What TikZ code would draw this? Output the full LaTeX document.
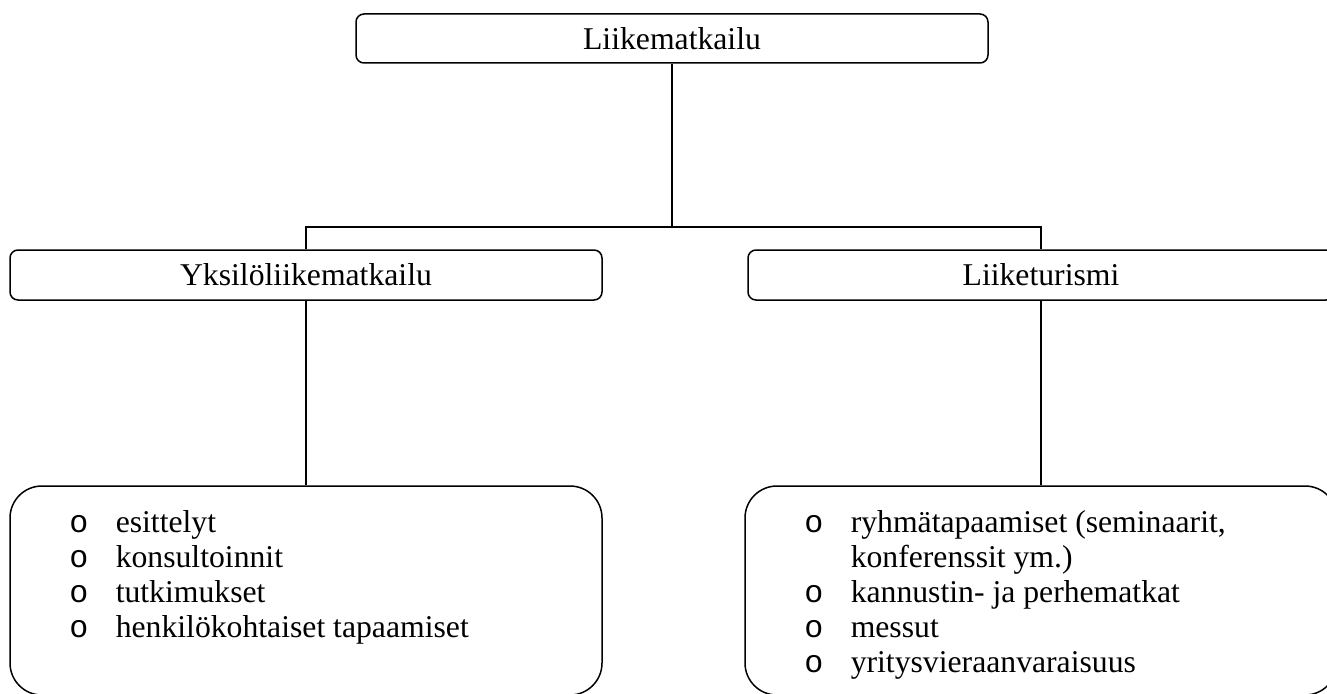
\documentclass[tikz,border=0pt]{standalone}
\usepackage{fontspec}
\setmainfont{Liberation Serif}
\newfontfamily\bulletfont{Liberation Mono}
\usepackage{array}
\begin{document}
\begin{tikzpicture}[x=1pt,y=-1pt,
  line width=1.5pt,
  headbox/.style={draw, rounded corners=8pt, inner sep=0pt, font=\fontsize{31.7}{35}\selectfont},
  listbox/.style={draw, rounded corners=32pt, inner sep=0pt},
  listtext/.style={anchor=north west, inner sep=0pt, align=left, font=\fontsize{31.7}{35}\selectfont},
  conn/.style={line width=1.5pt}
]
\useasboundingbox (0,0) rectangle (1327,693);
\begin{scope}
\clip (0,0) rectangle (1327,693);
\node[headbox, minimum width=632pt, minimum height=49pt] (top) at (672,38.5) {Liikematkailu};
\node[headbox, minimum width=592pt, minimum height=50pt] (lm) at (306,275) {Yksilöliikematkailu};
\node[headbox, minimum width=586pt, minimum height=50pt] (rm) at (1041,275) {Liiketurismi};
\node[listbox, minimum width=592pt, minimum height=209pt] (lb) at (306,590.5) {};
\node[listbox, minimum width=592pt, minimum height=209pt] (rb) at (1041,590.5) {};
\coordinate (j) at (672,227);
\draw[conn] (top.south) -- (j);
\draw[conn] (lm.north) |- (j) -| (rm.north);
\draw[conn] (lm.south) -- (lb.north);
\draw[conn] (rm.south) -- (rb.north);
\node[listtext] (ll) at (68.5,507.5) {%
  \begin{tabular}{@{}p{46.5pt}@{}l@{}}
  {\bulletfont o} & esittelyt\\
  {\bulletfont o} & konsultoinnit\\
  {\bulletfont o} & tutkimukset\\
  {\bulletfont o} & henkilökohtaiset tapaamiset
  \end{tabular}};
\node[listtext] (rl) at (803.5,507.5) {%
  \begin{tabular}{@{}p{46.5pt}@{}l@{}}
  {\bulletfont o} & ryhmätapaamiset (seminaarit,\\
   & konferenssit ym.)\\
  {\bulletfont o} & kannustin- ja perhematkat\\
  {\bulletfont o} & messut\\
  {\bulletfont o} & yritysvieraanvaraisuus
  \end{tabular}};
\end{scope}
\end{tikzpicture}
\end{document}
